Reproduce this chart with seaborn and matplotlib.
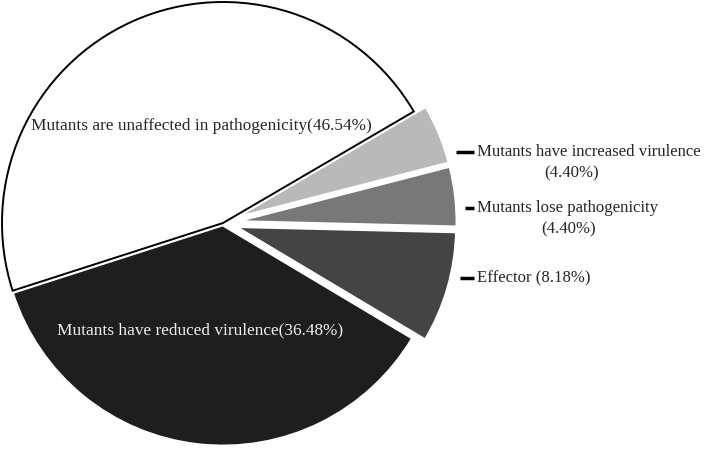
import seaborn as sns
import matplotlib.pyplot as plt

# data
categorias = ["Mutants are unaffected in pathogenicity", "Mutants have reduced virulence",
              "Effector", "Mutants lose pathogenicity", "Mutants have increased virulence"]
porcentajes = [46.54, 36.48, 8.18, 4.40, 4.40]
colores = ["#ffffff", "#1e1e1e", "#444444", "#787878", "#b9b9b9"]

sns.set_theme(style="white")
plt.rcParams["font.family"] = ["Liberation Serif", "DejaVu Serif"]

fig = plt.figure(figsize=(7.09, 4.66), dpi=100)
ax = fig.add_axes([0, 0, 1, 1])

# pie in pixel-like units (origin bottom-left)
cx, cy, r = 223, 466 - 223, 221
wedges, _ = ax.pie(porcentajes, colors=colores, startangle=30.3, counterclock=True,
                   explode=[0, 2, 13, 13, 13], center=(cx, cy), radius=r,
                   wedgeprops=dict(edgecolor="white", linewidth=2))
wedges[0].set_edgecolor("black")
wedges[0].set_linewidth(1.4)
wedges[0].set_zorder(3)

ax.set_xlim(0, 709)
ax.set_ylim(0, 466)
ax.set_aspect("equal")
ax.axis("off")

def Y(y):
    return 466 - y

fs = 12.4
fs2 = 12.1
ax.text(201, Y(126), f"{categorias[0]}({porcentajes[0]:.2f}%)", ha="center", va="center",
        fontsize=fs, zorder=5)
ax.text(200, Y(330), f"{categorias[1]}({porcentajes[1]:.2f}%)", ha="center", va="center",
        fontsize=fs, color="#f0f0f0", zorder=5)

# etiquetas de la derecha
ax.text(477, Y(152), categorias[4], ha="left", va="center", fontsize=fs2)
ax.text(572, Y(173), f"({porcentajes[4]:.2f}%)", ha="center", va="center", fontsize=fs2)
ax.text(477, Y(208), categorias[3], ha="left", va="center", fontsize=fs2)
ax.text(569, Y(229), f"({porcentajes[3]:.2f}%)", ha="center", va="center", fontsize=fs2)
ax.text(477, Y(278), f"{categorias[2]} ({porcentajes[2]:.2f}%)", ha="left", va="center", fontsize=fs2)

# guiones
for x0, yy in [(456, 152), (465, 208), (460, 278)]:
    ax.plot([x0, 474], [Y(yy), Y(yy)], color="black", linewidth=2.5, solid_capstyle="butt")

fig.savefig("out.png", dpi=100, facecolor="white")
